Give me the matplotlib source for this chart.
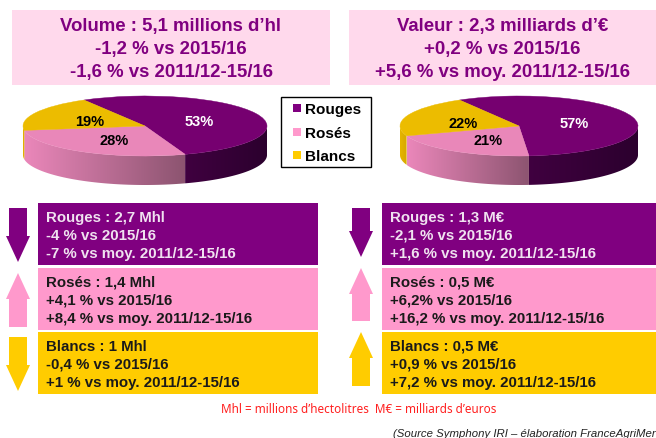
import matplotlib
matplotlib.use('Agg')
import matplotlib.pyplot as plt
from matplotlib.patches import Polygon, Rectangle
import numpy as np

categories = ['Rouges', 'Rosés', 'Blancs']
volume_shares = [53, 28, 19]
value_shares = [57, 21, 22]

volume_title = ["Volume : 5,1 millions d’hl", "-1,2 % vs 2015/16", "-1,6 % vs 2011/12-15/16"]
value_title = ["Valeur : 2,3 milliards d’€", "+0,2 % vs 2015/16", "+5,6 % vs moy. 2011/12-15/16"]

volume_lines = [
    ["Rouges : 2,7 Mhl", "-4 % vs 2015/16", "-7 % vs moy. 2011/12-15/16"],
    ["Rosés : 1,4 Mhl", "+4,1 % vs 2015/16", "+8,4 % vs moy. 2011/12-15/16"],
    ["Blancs : 1 Mhl", "-0,4 % vs 2015/16", "+1 % vs moy. 2011/12-15/16"],
]
value_lines = [
    ["Rouges : 1,3 M€", "-2,1 % vs 2015/16", "+1,6 % vs moy. 2011/12-15/16"],
    ["Rosés : 0,5 M€", "+6,2% vs 2015/16", "+16,2 % vs moy. 2011/12-15/16"],
    ["Blancs : 0,5 M€", "+0,9 % vs 2015/16", "+7,2 % vs moy. 2011/12-15/16"],
]
volume_arrows = ['down', 'up', 'down']
value_arrows = ['down', 'up', 'up']

note = "Mhl = millions d’hectolitres  M€ = milliards d’euros"
source = "(Source Symphony IRI – élaboration FranceAgriMer"

W, H = 656, 439
SANS = 'Liberation Sans'
PURPLE = '#800080'
PINK = '#ff99cc'
YELLOW = '#ffcc00'
box_colors = [PURPLE, PINK, YELLOW]
top_colors = ['#760070', '#e987b9', '#ecbc00']
side_left = [np.array([0.25, 0.0, 0.25]), np.array([0.92, 0.53, 0.73]), np.array([0.90, 0.71, 0.0])]
side_right = [np.array([0.17, 0.0, 0.18]), np.array([0.55, 0.33, 0.44]), np.array([0.84, 0.66, 0.0])]
label_colors = ['white', 'black', 'black']

fig = plt.figure(figsize=(W / 100, H / 100), dpi=100)
ax = fig.add_axes([0, 0, 1, 1])
ax.set_xlim(0, W)
ax.set_ylim(H, 0)
ax.axis('off')
ax.set_zorder(10)


def draw_pie(cx, cy, rx, ry, depth, shares, label_pos):
    d = depth / ry
    axp = fig.add_axes([(cx - rx) / W, 1 - (cy + ry + depth) / H, 2 * rx / W, (2 * ry + depth) / H])
    # side first, one clipped gradient for each slice seen from the front
    start = 120.0
    for i, s in enumerate(shares):
        end = start - s * 3.6
        a0, a1 = np.radians(max(end, -180)), np.radians(min(start, 0))
        if a1 > a0:
            ts = np.linspace(a0, a1, 80)
            xs, ys = np.cos(ts), np.sin(ts)
            outline = np.vstack([np.c_[xs, ys], np.c_[xs[::-1], ys[::-1] - d]])
            grad = np.linspace(0, 1, 128)[:, None]
            rgb = side_left[i] * (1 - grad) + side_right[i] * grad
            im = axp.imshow(rgb[None, :, :], extent=[xs.min(), xs.max(), -1 - d, 1],
                            aspect='auto', interpolation='bilinear')
            im.set_clip_path(Polygon(outline, closed=True, transform=axp.transData))
        start = end
    wedges, _ = axp.pie(shares, startangle=120, counterclock=False, radius=1, colors=top_colors)
    for w, c in zip(wedges, top_colors):
        w.set_edgecolor(c)
        w.set_linewidth(0.3)
        w.set_zorder(5)
    axp.set_aspect('auto')
    axp.set_xlim(-1, 1)
    axp.set_ylim(-1 - d, 1)
    axp.axis('off')
    for s, (x, y), c in zip(shares, label_pos, label_colors):
        ax.text(x, y, f"{s}%", color=c, fontsize=10.5, fontweight='bold', family=SANS,
                ha='center', va='center')


def draw_arrow(cx, y0, y1, direction, color):
    head = 26
    sh, hw = 9, 12
    if direction == 'down':
        pts = [(cx - sh, y0), (cx + sh, y0), (cx + sh, y1 - head), (cx + hw, y1 - head),
               (cx, y1), (cx - hw, y1 - head), (cx - sh, y1 - head)]
    else:
        pts = [(cx - sh, y1), (cx + sh, y1), (cx + sh, y0 + head), (cx + hw, y0 + head),
               (cx, y0), (cx - hw, y0 + head), (cx - sh, y0 + head)]
    ax.add_patch(Polygon(pts, closed=True, fc=color, ec='none'))


def draw_header(x0, x1, lines):
    ax.add_patch(Rectangle((x0, 11), x1 - x0, 75, fc='#ffd9ec', ec='none'))
    for y, t in zip([26.5, 49.5, 72.5], lines):
        ax.text((x0 + x1) / 2, y, t, color=PURPLE, fontsize=13.4, fontweight='bold', family=SANS,
                ha='center', va='center')


def draw_boxes(x0, x1, lines):
    tops = [204, 269, 333]
    for top, ls, c, col in zip(tops, lines, box_colors, ['#f0e2f0', '#1a1a1a', '#1a1a1a']):
        ax.add_patch(Rectangle((x0, top), x1 - x0, 62, fc=c, ec='none'))
        for dy, t in zip([14, 32, 50], ls):
            ax.text(x0 + 8, top + dy, t, color=col, fontsize=10.8, fontweight='bold', family=SANS,
                    ha='left', va='center')


draw_header(12, 330, volume_title)
draw_header(349, 656, value_title)

draw_pie(145, 127, 122, 30, 29, volume_shares, [(199, 122), (114, 141), (90, 122)])
draw_pie(519, 127, 119, 30, 29, value_shares, [(574, 124), (488, 141), (463, 124)])

# legend
ax.add_patch(Rectangle((281.5, 98.5), 90, 70.5, fc='#888888', ec='none'))
ax.add_patch(Rectangle((280.5, 97.5), 90, 70, fc='white', ec='black', lw=1))
for y, c, t in zip([109, 133, 156], box_colors, categories):
    ax.add_patch(Rectangle((293, y - 4), 8, 8, fc=c, ec='none'))
    ax.text(305, y + 1, t, fontsize=11, fontweight='bold', family=SANS, ha='left', va='center')

draw_boxes(38, 318, volume_lines)
draw_boxes(382, 656, value_lines)

for (y0, y1), d, c in zip([(209, 263), (274, 328), (338, 392)], volume_arrows, box_colors):
    draw_arrow(18, y0, y1, d, c)
for (y0, y1), d, c in zip([(209, 258), (269, 322), (333, 387)], value_arrows, box_colors):
    draw_arrow(361, y0, y1, d, c)

ax.text(358.5, 409.5, note, color='#ff2020', fontsize=8.45, family='Noto Sans', ha='center', va='center')
ax.text(656, 434, source, color='#222222', fontsize=8.2, style='italic', family=SANS, ha='right', va='center')

fig.savefig('out.png', dpi=100)
